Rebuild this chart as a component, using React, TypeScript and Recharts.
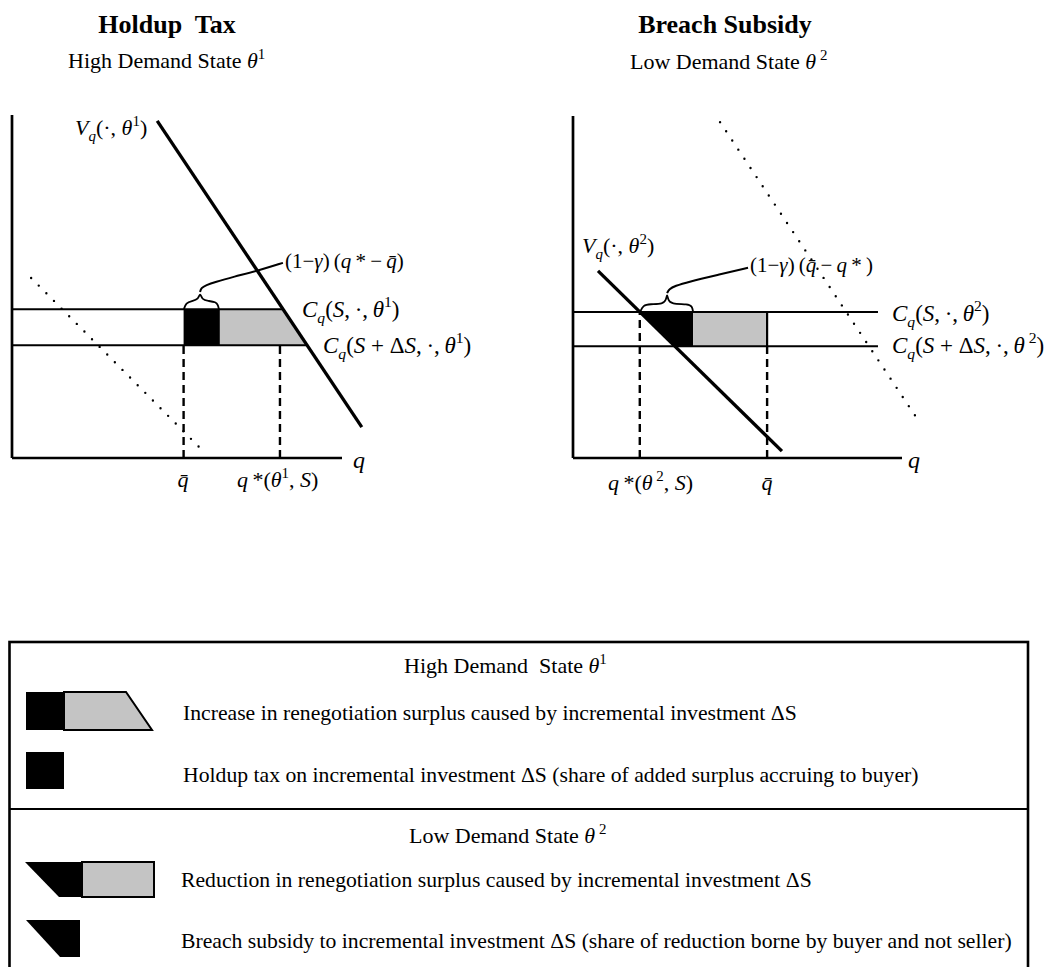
import React from 'react';
import { ComposedChart, Line, Area, XAxis, YAxis } from 'recharts';

// ---------- Left diagram: Holdup Tax, high demand state θ1 (q vs marginal value/cost) ----------
const L_AXIS_X = [{ q: 0, p: 0 }, { q: 100, p: 0 }];
const L_AXIS_Y = [{ q: 0, p: 0 }, { q: 0, p: 100 }];
const L_V = [{ q: 44, p: 98.3 }, { q: 106, p: 9 }];
const L_C_HIGH = [{ q: 0, p: 43.4 }, { q: 82.1, p: 43.4 }];
const L_C_LOW = [{ q: 0, p: 32.9 }, { q: 89.4, p: 32.9 }];
const L_DOTTED = [{ q: 5.8, p: 52.5 }, { q: 57, p: 2.9 }];
const L_QBAR_DASH = [{ q: 52, p: 0 }, { q: 52, p: 32.9 }];
const L_QSTAR_DASH = [{ q: 81.2, p: 0 }, { q: 81.2, p: 32.9 }];
const L_BLACK = [{ q: 52, r: [32.9, 43.4] }, { q: 63, r: [32.9, 43.4] }];
const L_GRAY = [{ q: 63, r: [32.9, 43.4] }, { q: 82.1, r: [32.9, 43.4] }, { q: 89.4, r: [32.9, 32.9] }];
const L_BRACE = [
  { q: 52.1, p: 43.4 }, { q: 52.7, p: 45.2 }, { q: 54.5, p: 45.8 }, { q: 56.4, p: 46.1 },
  { q: 57.0, p: 48.4 }, { q: 57.6, p: 46.1 }, { q: 59.4, p: 45.8 }, { q: 61.8, p: 45.5 },
  { q: 62.4, p: 44.6 }, { q: 62.7, p: 43.4 },
];
const L_LEADER = [
  { q: 57.0, p: 48.4 }, { q: 57.3, p: 49.6 }, { q: 58.8, p: 50.4 }, { q: 61.5, p: 51.3 },
  { q: 67.0, p: 52.8 }, { q: 75.2, p: 54.8 }, { q: 82.1, p: 56.9 },
];

// ---------- Right diagram: Breach Subsidy, low demand state θ2 ----------
const R_AXIS_X = [{ q: 0, p: 0 }, { q: 100, p: 0 }];
const R_AXIS_Y = [{ q: 0, p: 0 }, { q: 0, p: 100 }];
const R_V = [{ q: 7.6, p: 54.7 }, { q: 63.5, p: 2.0 }];
const R_C_HIGH = [{ q: 0, p: 42.7 }, { q: 92.7, p: 42.7 }];
const R_C_LOW = [{ q: 0, p: 32.7 }, { q: 92.7, p: 32.7 }];
const R_DOTTED = [{ q: 44.7, p: 98.2 }, { q: 105.5, p: 10.2 }];
const R_QSTAR_DASH = [{ q: 20.3, p: 0 }, { q: 20.3, p: 42.7 }];
const R_QBAR_DASH = [{ q: 59, p: 0 }, { q: 59, p: 32.7 }];
const R_QBAR_EDGE = [{ q: 59, p: 32.7 }, { q: 59, p: 42.7 }];
const R_BLACK = [{ q: 20.3, r: [42.7, 42.7] }, { q: 30.9, r: [32.7, 42.7] }, { q: 36.5, r: [32.7, 42.7] }];
const R_GRAY = [{ q: 36.5, r: [32.7, 42.7] }, { q: 59, r: [32.7, 42.7] }];
const R_BRACE = [
  { q: 20.4, p: 42.7 }, { q: 21.3, p: 44.7 }, { q: 23.4, p: 45.0 }, { q: 27.4, p: 45.0 },
  { q: 28.3, p: 46.2 }, { q: 28.6, p: 48.2 }, { q: 28.9, p: 46.2 }, { q: 29.8, p: 45.0 },
  { q: 35.0, p: 45.0 }, { q: 36.2, p: 44.4 }, { q: 36.5, p: 42.7 },
];
const R_LEADER = [
  { q: 28.6, p: 48.2 }, { q: 29.2, p: 49.4 }, { q: 31.0, p: 50.3 }, { q: 35.0, p: 51.5 },
  { q: 43.8, p: 53.5 }, { q: 53.2, p: 55.6 },
];

// ---------- Text ----------
const TITLES = ['Holdup\u00A0 Tax', 'Breach Subsidy'];
const STATES = ['High Demand State ', 'Low Demand State '];
const LEGEND_TEXT = [
  'Increase in renegotiation surplus caused by incremental investment \u0394S',
  'Holdup tax on incremental investment \u0394S (share of added surplus accruing to buyer)',
  'Reduction in renegotiation surplus caused by incremental investment \u0394S',
  'Breach subsidy to incremental investment \u0394S (share of reduction borne by buyer and not seller)',
];

const FONT = '"Liberation Serif", "Times New Roman", serif';
const GRAY = '#c4c4c4';

type Seg = [string, string?];

function MathText({ x, y, size, segs, anchor }: { x: number; y: number; size: number; segs: Seg[]; anchor?: string }) {
  let shift = 0;
  const kids = segs.map(([t, s = 'n'], i) => {
    const isSub = s === 'sub' || s === 'isub';
    const isSup = s === 'sup';
    const target = isSub ? size * 0.28 : isSup ? -size * 0.42 : 0;
    const dy = target - shift;
    shift = target;
    const fs = isSub || isSup ? size * 0.68 : size;
    const italic = s === 'i' || s === 'isub';
    return (
      <tspan key={i} dy={dy} fontSize={fs} fontStyle={italic ? 'italic' : 'normal'}>
        {t}
      </tspan>
    );
  });
  return (
    <text x={x} y={y} fontFamily={FONT} fontSize={size} textAnchor={anchor || 'start'} fill="#000" style={{ whiteSpace: 'pre' }}>
      {kids}
    </text>
  );
}

function seg(data: any[], key: string, props: any) {
  return <Line key={key} data={data} dataKey="p" type="linear" dot={false} activeDot={false} isAnimationActive={false} stroke="#000" legendType="none" {...props} />;
}

function LeftChart() {
  return (
    <ComposedChart width={520} height={500} margin={{ top: 115, right: 112, bottom: 42, left: 12 }}>
      <XAxis type="number" dataKey="q" domain={[0, 120]} hide />
      <YAxis type="number" domain={[0, 100]} hide />
      <Area data={L_BLACK} dataKey="r" type="linear" fill="#000" fillOpacity={1} stroke="none" isAnimationActive={false} dot={false} activeDot={false} />
      <Area data={L_GRAY} dataKey="r" type="linear" fill={GRAY} fillOpacity={1} stroke="none" isAnimationActive={false} dot={false} activeDot={false} />
      {seg(L_DOTTED, 'dot', { strokeWidth: 2.4, strokeDasharray: '0 10.8', strokeLinecap: 'round' })}
      {seg(L_QBAR_DASH, 'qb', { strokeWidth: 2.4, strokeDasharray: '8 5' })}
      {seg(L_QSTAR_DASH, 'qs', { strokeWidth: 2.4, strokeDasharray: '8 5' })}
      {seg(L_C_HIGH, 'ch', { strokeWidth: 2 })}
      {seg(L_C_LOW, 'cl', { strokeWidth: 2 })}
      {seg(L_AXIS_X, 'ax', { strokeWidth: 2.7 })}
      {seg(L_AXIS_Y, 'ay', { strokeWidth: 2.7 })}
      {seg(L_V, 'v', { strokeWidth: 3.3 })}
      {seg(L_BRACE, 'br', { strokeWidth: 1.8, type: 'basis' })}
      {seg(L_LEADER, 'ld', { strokeWidth: 2, type: 'basis' })}
    </ComposedChart>
  );
}

function RightChart() {
  return (
    <ComposedChart width={527} height={500} margin={{ top: 116, right: 79.2, bottom: 42, left: 53 }}>
      <XAxis type="number" dataKey="q" domain={[0, 120]} hide />
      <YAxis type="number" domain={[0, 100]} hide />
      <Area data={R_BLACK} dataKey="r" type="linear" fill="#000" fillOpacity={1} stroke="none" isAnimationActive={false} dot={false} activeDot={false} />
      <Area data={R_GRAY} dataKey="r" type="linear" fill={GRAY} fillOpacity={1} stroke="none" isAnimationActive={false} dot={false} activeDot={false} />
      {seg(R_DOTTED, 'dot', { strokeWidth: 2.4, strokeDasharray: '0 11', strokeLinecap: 'round' })}
      {seg(R_QSTAR_DASH, 'qs', { strokeWidth: 2.4, strokeDasharray: '8 5' })}
      {seg(R_QBAR_DASH, 'qb', { strokeWidth: 2.4, strokeDasharray: '8 5' })}
      {seg(R_QBAR_EDGE, 'qe', { strokeWidth: 2.2 })}
      {seg(R_C_HIGH, 'ch', { strokeWidth: 2 })}
      {seg(R_C_LOW, 'cl', { strokeWidth: 2 })}
      {seg(R_AXIS_X, 'ax', { strokeWidth: 2.7 })}
      {seg(R_AXIS_Y, 'ay', { strokeWidth: 2.7 })}
      {seg(R_V, 'v', { strokeWidth: 3.3 })}
      {seg(R_BRACE, 'br', { strokeWidth: 1.8, type: 'basis' })}
      {seg(R_LEADER, 'ld', { strokeWidth: 2, type: 'basis' })}
    </ComposedChart>
  );
}

function Overlay() {
  const LS = 21.7;
  const T = '\u2009';
  return (
    <svg width={1047} height={967} style={{ position: 'absolute', left: 0, top: 0, pointerEvents: 'none' }}>
      {/* titles */}
      <text x={167} y={33} textAnchor="middle" fontFamily={FONT} fontWeight="bold" fontSize={26} style={{ whiteSpace: 'pre' }}>{TITLES[0]}</text>
      <text x={725} y={33} textAnchor="middle" fontFamily={FONT} fontWeight="bold" fontSize={26}>{TITLES[1]}</text>
      <MathText x={68} y={68} size={22} segs={[[STATES[0]], ['\u03B8', 'i'], ['1', 'sup']]} />
      <MathText x={630} y={69} size={22} segs={[[STATES[1]], ['\u03B8', 'i'], [' 2', 'sup']]} />

      {/* left diagram labels */}
      <MathText x={75} y={135} size={22} segs={[['V', 'i'], ['q', 'isub'], ['(\u00B7, '], ['\u03B8', 'i'], ['1', 'sup'], [')']]} />
      <MathText x={285} y={268} size={21} segs={[['(1\u2212'], ['\u03B3', 'i'], [')' + T + '('], ['q', 'i'], [T + '*' + T + '\u2212' + T], ['q\u0304', 'i'], [')']]} />
      <MathText x={302} y={317} size={23} segs={[['C', 'i'], ['q', 'isub'], ['('], ['S', 'i'], [',' + T + '\u00B7,' + T], ['\u03B8', 'i'], ['1', 'sup'], [')']]} />
      <MathText x={323} y={353} size={23} segs={[['C', 'i'], ['q', 'isub'], ['('], ['S', 'i'], [' + \u0394'], ['S', 'i'], [',' + T + '\u00B7,' + T], ['\u03B8', 'i'], ['1', 'sup'], [')']]} />
      <MathText x={183} y={487} size={22} anchor="middle" segs={[['q\u0304', 'i']]} />
      <MathText x={237} y={487} size={22} segs={[['q', 'i'], [T + '*('], ['\u03B8', 'i'], ['1', 'sup'], [', '], ['S', 'i'], [')']]} />
      <MathText x={353} y={468} size={24} segs={[['q', 'i']]} />

      {/* right diagram labels */}
      <MathText x={582} y={253} size={22} segs={[['V', 'i'], ['q', 'isub'], ['(\u00B7, '], ['\u03B8', 'i'], ['2', 'sup'], [')']]} />
      <MathText x={750} y={272} size={21} segs={[['(1\u2212'], ['\u03B3', 'i'], [')' + T + '('], ['q\u0304', 'i'], [T + '\u2212' + T], ['q', 'i'], [T + '*' + T + ')']]} />
      <MathText x={892} y={321} size={23} segs={[['C', 'i'], ['q', 'isub'], ['('], ['S', 'i'], [',' + T + '\u00B7,' + T], ['\u03B8', 'i'], ['2', 'sup'], [')']]} />
      <MathText x={892} y={353} size={23} segs={[['C', 'i'], ['q', 'isub'], ['('], ['S', 'i'], [' + \u0394'], ['S', 'i'], [',' + T + '\u00B7,' + T], ['\u03B8', 'i'], [' 2', 'sup'], [')']]} />
      <MathText x={608} y={490} size={22} segs={[['q', 'i'], [T + '*('], ['\u03B8', 'i'], [' 2', 'sup'], [', '], ['S', 'i'], [')']]} />
      <MathText x={767} y={490} size={22} anchor="middle" segs={[['q\u0304', 'i']]} />
      <MathText x={908} y={468} size={24} segs={[['q', 'i']]} />

      {/* legend box */}
      <rect x={9.5} y={642} width={1018.5} height={340} fill="none" stroke="#000" strokeWidth={2.6} />
      <line x1={9.5} y1={809} x2={1028} y2={809} stroke="#000" strokeWidth={2.2} />
      <MathText x={404} y={673} size={22} segs={[['High Demand\u00A0 State '], ['\u03B8', 'i'], ['1', 'sup']]} />
      <MathText x={409} y={843} size={22} segs={[['Low Demand State '], ['\u03B8', 'i'], [' 2', 'sup']]} />

      {/* legend icons */}
      <rect x={26} y={692} width={38} height={38} fill="#000" />
      <polygon points="64,692 126,692 152,730 64,730" fill={GRAY} stroke="#000" strokeWidth={2} />
      <rect x={26} y={752} width={38} height={37} fill="#000" />
      <polygon points="25,862 82,862 82,897 59,897" fill="#000" />
      <rect x={82} y={862} width={72} height={35} fill={GRAY} stroke="#000" strokeWidth={2} />
      <polygon points="26,920 80,920 80,957 60,957" fill="#000" />

      <text x={183} y={720} fontFamily={FONT} fontSize={LS}>{LEGEND_TEXT[0]}</text>
      <text x={183} y={782} fontFamily={FONT} fontSize={LS}>{LEGEND_TEXT[1]}</text>
      <text x={181} y={887} fontFamily={FONT} fontSize={LS}>{LEGEND_TEXT[2]}</text>
      <text x={181} y={948} fontFamily={FONT} fontSize={LS}>{LEGEND_TEXT[3]}</text>
    </svg>
  );
}

export default function App() {
  return (
    <div style={{ position: 'absolute', left: 0, top: 0, width: 1047, height: 967, background: '#fff', overflow: 'hidden' }}>
      <div style={{ position: 'absolute', left: 0, top: 0 }}>
        <LeftChart />
      </div>
      <div style={{ position: 'absolute', left: 520, top: 0 }}>
        <RightChart />
      </div>
      <Overlay />
    </div>
  );
}
